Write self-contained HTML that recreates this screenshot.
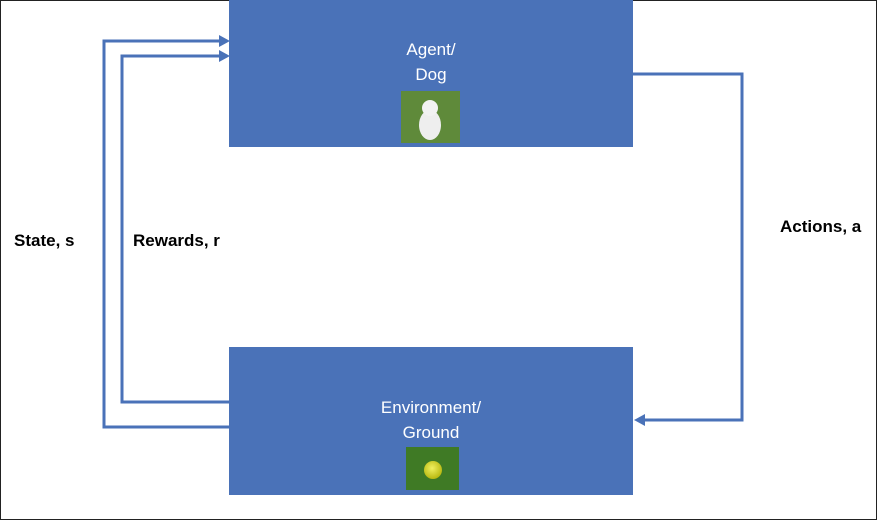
<!DOCTYPE html>
<html><head><style>
body{margin:0;background:#fff;}
.wrap{position:relative;width:877px;height:520px;overflow:hidden;font-family:"Liberation Sans",sans-serif;}
.t{position:absolute;color:#fff;font-size:17px;text-align:center;width:404px;left:229px;}
.l{position:absolute;font-weight:bold;font-size:17px;color:#000;}
</style></head><body><div class="wrap">
<svg width="877" height="520" style="position:absolute;left:0;top:0">
<defs>
<radialGradient id="ball" cx="0.45" cy="0.4" r="0.6"><stop offset="0" stop-color="#f0f060"/><stop offset="1" stop-color="#b8b810"/></radialGradient>
</defs>
<rect x="0" y="0" width="877" height="520" fill="none" stroke="#222" stroke-width="2"/>
<rect x="229" y="0" width="404" height="147" fill="#4a72b8"/>
<rect x="229" y="347" width="404" height="148" fill="#4a72b8"/>
<g fill="none" stroke="#4a72b8" stroke-width="3">
<polyline points="229,427 104,427 104,41 220,41"/>
<polyline points="229,402 122,402 122,56 220,56"/>
<polyline points="633,74 742,74 742,420 642,420"/>
</g>
<g fill="#4a72b8">
<polygon points="230,41 219,35 219,47"/>
<polygon points="230,56 219,50 219,62"/>
<polygon points="634,420 645,414 645,426"/>
</g>
<rect x="401" y="91" width="59" height="52" fill="#5f8a3a"/>
<ellipse cx="430" cy="125" rx="11" ry="15" fill="#eee"/>
<circle cx="430" cy="108" r="8" fill="#f2f2f2"/>
<rect x="406" y="447" width="53" height="43" fill="#3f7a25"/>
<circle cx="433" cy="470" r="9" fill="url(#ball)"/>
</svg>
<div class="t" style="top:40px">Agent/</div>
<div class="t" style="top:65px">Dog</div>
<div class="t" style="top:398px">Environment/</div>
<div class="t" style="top:423px">Ground</div>
<div class="l" style="left:14px;top:231px">State, s</div>
<div class="l" style="left:133px;top:231px">Rewards, r</div>
<div class="l" style="left:780px;top:217px">Actions, a</div>
</div></body></html>
